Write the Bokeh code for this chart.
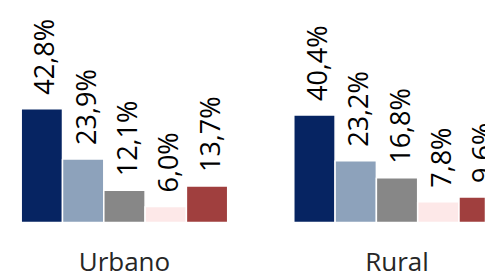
import math
from bokeh.plotting import figure
from bokeh.models import ColumnDataSource, Range1d
from bokeh.core.properties import value
from bokeh.embed import file_html
from bokeh.resources import INLINE

# ---- data ----
groups = ["Urbano", "Rural"]
series_colors = ["#062462", "#8da2bb", "#878787", "#fde8e8", "#a03f3e"]
urbano = [42.8, 23.9, 12.1, 6.0, 13.7]
rural = [40.4, 23.2, 16.8, 7.8, 9.6]
values_by_group = [urbano, rural]

GROUP_STEP = 6.6  # category width in bar units (5 bars + gap)
FONT = "Open Sans"

xs, tops, cols, labels = [], [], [], []
for g, vals in enumerate(values_by_group):
    for i, v in enumerate(vals):
        xs.append(g * GROUP_STEP + i)
        tops.append(v)
        cols.append(series_colors[i])
        labels.append(f"{v:.1f}%".replace(".", ","))

src = ColumnDataSource(dict(x=xs, top=tops, color=cols, label=labels))

p = figure(width=485, height=279, output_backend="svg", toolbar_location=None,
           x_range=Range1d(-1.001, 10.742), y_range=Range1d(-21.43, 83.46),
           x_axis_type=None, y_axis_type=None, min_border=0)
p.outline_line_color = None
p.xgrid.visible = False
p.ygrid.visible = False
p.background_fill_color = "white"

p.vbar(x="x", top="top", bottom=0, width=1.0, fill_color="color",
       line_color="white", line_width=1.5, source=src)

p.text(x="x", y="top", text="label", source=src, angle=math.pi / 2,
       x_offset=2, y_offset=-14, text_align="left", text_baseline="middle",
       text_font=value(FONT), text_font_size="27px", text_color="black")

centers = [g * GROUP_STEP + (len(urbano) - 1) / 2 for g in range(len(groups))]
p.text(x=centers, y=[-14.65] * len(groups), text=groups, text_align="center",
       text_baseline="middle", text_font=value(FONT), text_font_size="26px",
       text_color="#262626")

open("out.html", "w").write(file_html(p, INLINE))
